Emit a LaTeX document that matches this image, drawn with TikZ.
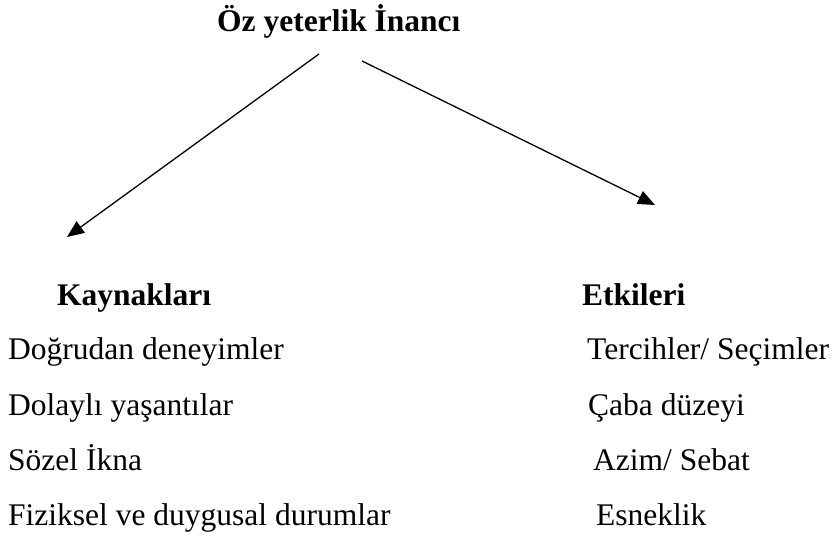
\documentclass[tikz,border=0pt]{standalone}
\usepackage{fontspec}
\setmainfont{Liberation Serif}
\usetikzlibrary{arrows.meta}
\tikzset{
  body/.style={anchor=base west, inner sep=0pt, font=\fontsize{31.5}{36}\selectfont},
  head/.style={anchor=base west, inner sep=0pt, font=\fontsize{31.5}{36}\selectfont\bfseries},
  ttl/.style={anchor=base west, inner sep=0pt, font=\fontsize{31.5}{36}\selectfont\bfseries},
  arr/.style={line width=1.3pt, -{Triangle[length=17pt,width=14pt]}}
}
\begin{document}
\begin{tikzpicture}[x=1pt,y=-1pt]
\useasboundingbox (0,0) rectangle (835,540);
\node[ttl] (title) at (217,32) {Öz yeterlik İnancı};
\coordinate (ls) at (319,54);
\coordinate (lt) at (67,237);
\coordinate (rs) at (362,61);
\coordinate (rt) at (655,205);
\draw[arr] (ls) -- (lt);
\draw[arr] (rs) -- (rt);
\node[head] (kay) at (57,305) {Kaynakları};
\node[head] (etk) at (582,305) {Etkileri};
\node[body] (l1) at (8,359) {Doğrudan deneyimler};
\node[body] (l2) at (8,415) {Dolaylı yaşantılar};
\node[body] (l3) at (8,470) {Sözel İkna};
\node[body] (l4) at (8,525) {Fiziksel ve duygusal durumlar};
\node[body] (r1) at (587,359) {Tercihler/ Seçimler};
\node[body] (r2) at (588,415) {Çaba düzeyi};
\node[body] (r3) at (593,470) {Azim/ Sebat};
\node[body] (r4) at (596,525) {Esneklik};
\end{tikzpicture}
\end{document}
